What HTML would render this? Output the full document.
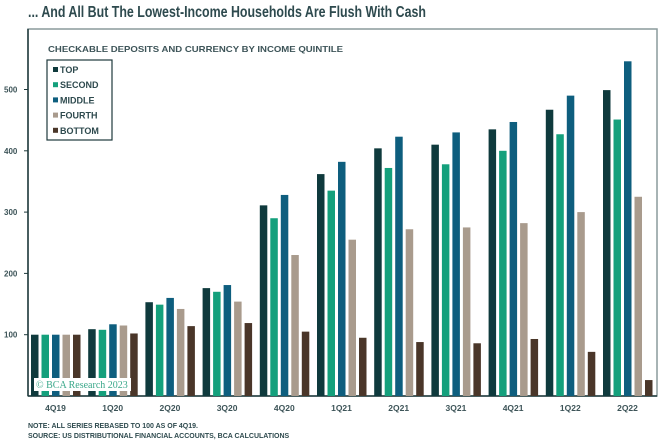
<!DOCTYPE html>
<html><head><meta charset="utf-8"><style>
body{margin:0;background:#fff;width:661px;height:441px;overflow:hidden;font-family:"Liberation Sans",sans-serif;}
</style></head><body>
<svg width="661" height="441">
<text x="28" y="17" font-size="15.5" font-weight="bold" fill="#2e4a4e" textLength="398" lengthAdjust="spacingAndGlyphs">... And All But The Lowest-Income Households Are Flush With Cash</text>
<rect x="28" y="29" width="629" height="367" fill="none" stroke="#8a9a9c" stroke-width="1.5"/>
<line x1="28" y1="29" x2="28" y2="396" stroke="#1e3a3c" stroke-width="1.5"/>
<line x1="28" y1="396" x2="657" y2="396" stroke="#1e3a3c" stroke-width="1.5"/>
<text x="48" y="52" font-size="8.5" font-weight="bold" fill="#3d5458" textLength="295" lengthAdjust="spacingAndGlyphs">CHECKABLE DEPOSITS AND CURRENCY BY INCOME QUINTILE</text>
<g id="bars"></g><g id="yt"></g><g id="xt"></g>
<rect x="34" y="378" width="97" height="13" fill="#fff"/>
<text x="36" y="388" font-size="10" font-family="Liberation Serif" fill="#3aa88a">© BCA Research 2023</text>
<g>
<rect x="47" y="60" width="65" height="80" fill="#fff" stroke="#1e3a3c" stroke-width="1.2"/>
<g id="leg"></g>
</g>
<text x="28" y="428" font-size="7" font-weight="bold" fill="#2e4a4e">NOTE: ALL SERIES REBASED TO 100 AS OF 4Q19.</text>
<text x="28" y="438" font-size="7" font-weight="bold" fill="#2e4a4e">SOURCE: US DISTRIBUTIONAL FINANCIAL ACCOUNTS, BCA CALCULATIONS</text>
</svg>
<script>
const categories=["4Q19","1Q20","2Q20","3Q20","4Q20","1Q21","2Q21","3Q21","4Q21","1Q22","2Q22"];
const seriesNames=["TOP","SECOND","MIDDLE","FOURTH","BOTTOM"];
const top_=[100,109,153,176,311,362,404,410,435,467,499];
const second=[100,108,149,170,290,335,372,378,400,427,451];
const middle=[100,117,160,181,328,382,423,430,447,490,546];
const fourth=[100,115,142,154,230,255,272,275,282,300,325];
const bottom=[100,102,114,119,105,95,88,86,93,72,26];
const yTicks=[100,200,300,400,500];
const series=[top_,second,middle,fourth,bottom];
const colors=["#0f3a3d","#14a07c","#0e5e7e","#a99b8d","#4a3629"];
const NS="http://www.w3.org/2000/svg";
const y=v=>396-v*0.613;
const x=(i,s)=>31+i*57.2+s*10.5;
const bars=document.getElementById('bars');
series.forEach((arr,s)=>arr.forEach((v,i)=>{
 const r=document.createElementNS(NS,'rect');
 r.setAttribute('x',x(i,s));r.setAttribute('width',7.5);
 r.setAttribute('y',y(v));r.setAttribute('height',396-y(v));
 r.setAttribute('fill',colors[s]);
 
 
 bars.appendChild(r);
}));
const yt=document.getElementById('yt');
yTicks.forEach(t=>{
 const tx=document.createElementNS(NS,'text');
 tx.setAttribute('x',4);tx.setAttribute('y',y(t)+3);
 tx.setAttribute('font-size','8');tx.setAttribute('font-weight','bold');tx.setAttribute('fill','#3d5458');
 tx.textContent=t;
 
 
 yt.appendChild(tx);
 const l=document.createElementNS(NS,'line');
 l.setAttribute('x1',24);l.setAttribute('x2',28);l.setAttribute('y1',y(t));l.setAttribute('y2',y(t));l.setAttribute('stroke','#1e3a3c');
 yt.appendChild(l);
});
const xt=document.getElementById('xt');
categories.forEach((c,i)=>{
 const tx=document.createElementNS(NS,'text');
 tx.setAttribute('x',x(i,0)+24.5);tx.setAttribute('y',411);
 tx.setAttribute('text-anchor','middle');
 tx.setAttribute('font-size','8.5');tx.setAttribute('font-weight','bold');tx.setAttribute('fill','#3d5458');
 tx.textContent=c;
 
 
 xt.appendChild(tx);
});
const leg=document.getElementById('leg');
seriesNames.forEach((n,s)=>{
 const g=document.createElementNS(NS,'g');
 
 
 const r=document.createElementNS(NS,'rect');
 r.setAttribute('x',53);r.setAttribute('y',67+s*15.2);r.setAttribute('width',5);r.setAttribute('height',5);r.setAttribute('fill',colors[s]);
 const t=document.createElementNS(NS,'text');
 t.setAttribute('x',60);t.setAttribute('y',73+s*15.2);
 t.setAttribute('font-size','9');t.setAttribute('font-weight','bold');t.setAttribute('fill','#2e4a4e');
 t.textContent=n;
 g.appendChild(r);g.appendChild(t);leg.appendChild(g);
});
</script>
</body></html>
